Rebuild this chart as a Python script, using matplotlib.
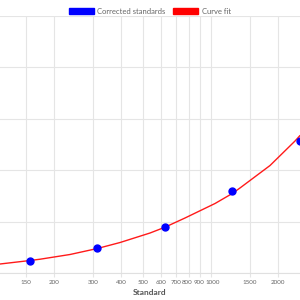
import matplotlib.pyplot as plt
from matplotlib.patches import Patch
from matplotlib.transforms import ScaledTranslation

# corrected standards (x = standard concentration, y = response)
std_x = [156.25, 312.5, 625, 1250, 2500]
std_y = [0.24, 0.49, 0.90, 1.60, 2.57]

# curve fit
fit_x = [114.8, 156.25, 173.2, 235.8, 312.5, 394.2, 536.6, 625, 768.9,
         1046.7, 1250, 1353, 1842, 2382, 2507]
fit_y = [0.175, 0.243, 0.268, 0.360, 0.477, 0.593, 0.778, 0.890, 1.070,
         1.352, 1.547, 1.654, 2.091, 2.568, 2.675]

xticks = [150, 200, 300, 400, 500, 600, 700, 800, 900, 1000, 1500, 2000]

plt.rcParams["font.family"] = ["Lato", "DejaVu Sans"]

fig = plt.figure(figsize=(3, 3), dpi=100)
ax = fig.add_axes([0, 0.09, 1, 0.8567])

ax.plot(fit_x, fit_y, color="#ff1a1a", linewidth=1.0, zorder=2,
        solid_joinstyle="round", solid_capstyle="round")
ax.plot(std_x, std_y, "o", color="#0000ff", markersize=5, zorder=3)

ax.set_xscale("log")
ax.set_xlim(114.8, 2507)
ax.set_ylim(0, 5)
ax.set_xticks(xticks)
ax.set_xticklabels([str(t) for t in xticks])
ax.minorticks_off()
ax.set_yticks([0, 1, 2, 3, 4, 5])
ax.set_yticklabels([])
ax.tick_params(axis="x", labelsize=4.5, colors="#666666", length=3, pad=2, color="#e5e5e5")
ax.tick_params(axis="y", length=0)
ax.grid(True, color="#e5e5e5", linewidth=0.8)
for s in ["top", "right", "left"]:
    ax.spines[s].set_visible(False)
ax.spines["bottom"].set_color("#e0e0e0")
ax.set_xlabel("Standard", fontsize=6, fontweight="bold", color="#555555", labelpad=3)

# 800 / 900 / 1000 crowd each other, nudge them apart a little
labels = ax.get_xticklabels()
for i, dx in [(7, -1.5), (8, -1.5), (9, 2.0)]:
    labels[i].set_transform(labels[i].get_transform() + ScaledTranslation(dx / 100, 0, fig.dpi_scale_trans))

handles = [Patch(facecolor="#0000ff", edgecolor="#0000ff", label="Corrected standards"),
           Patch(facecolor="#ff0000", edgecolor="#ff0000", label="Curve fit")]
fig.legend(handles=handles, loc="upper center", bbox_to_anchor=(0.5, 0.997), ncol=2,
           frameon=False, fontsize=5.5, handlelength=3.2, handleheight=0.9,
           handletextpad=0.5, columnspacing=1.0, labelcolor="#666666")

fig.savefig("out.png", dpi=100)
